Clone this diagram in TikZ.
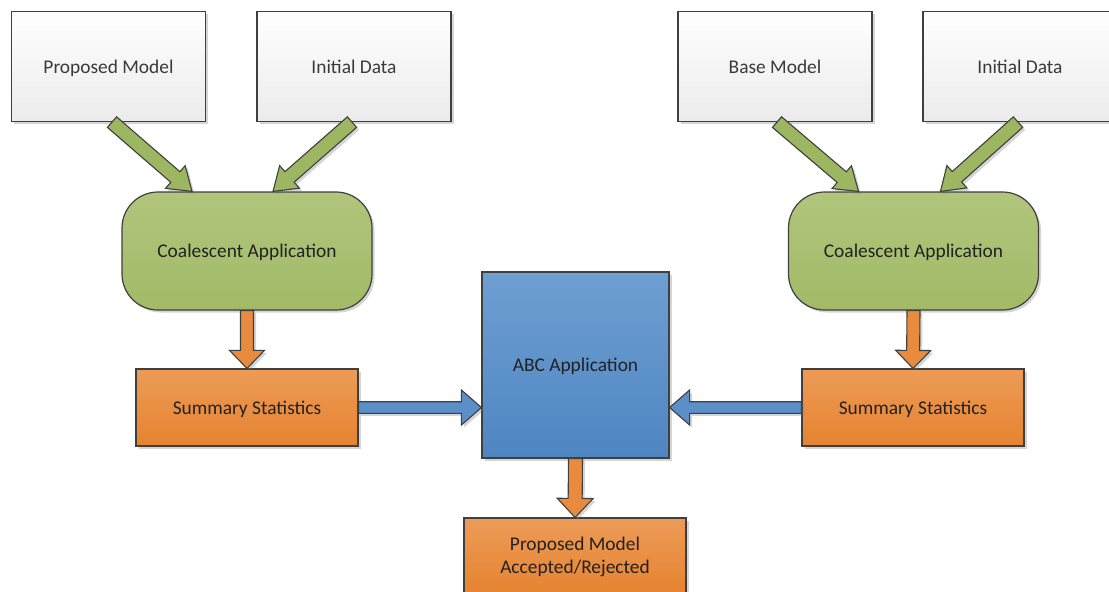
\documentclass[tikz,border=0pt]{standalone}
\usepackage{fontspec}
\setmainfont{Carlito}
\usetikzlibrary{calc,shadows}

\definecolor{edge}{HTML}{3F3F3F}
\definecolor{ink}{HTML}{222222}
\definecolor{greyink}{HTML}{3A3A3A}
\definecolor{papertop}{HTML}{FFFFFF}
\definecolor{paperbot}{HTML}{EBEBEB}
\definecolor{greentop}{HTML}{B1C57C}
\definecolor{greenbot}{HTML}{A2BA67}
\definecolor{greenarrow}{HTML}{9DB662}
\definecolor{orangetop}{HTML}{ED9B58}
\definecolor{orangebot}{HTML}{E5832F}
\definecolor{orangearrow}{HTML}{E98B3E}
\definecolor{bluetop}{HTML}{6E9FD3}
\definecolor{bluebot}{HTML}{4F85C0}
\definecolor{bluearrow}{HTML}{5B8FC8}

% block arrow: #1 style, #2 start, #3 tip, #4 shaft half-width, #5 head half-width, #6 head length
\newcommand\blockarrow[6]{%
  \coordinate (ba-head) at ($(#3)!#6!(#2)$);
  \draw[#1] ($(#2)!#4!90:(#3)$) -- ($(ba-head)!#4!90:(#3)$) -- ($(ba-head)!#5!90:(#3)$)
    -- (#3) -- ($(ba-head)!#5!-90:(#3)$) -- ($(ba-head)!#4!-90:(#3)$)
    -- ($(#2)!#4!-90:(#3)$) -- cycle;
}

\begin{document}
\begin{tikzpicture}[x=1pt,y=1pt,
  font=\fontsize{19.4}{22.5}\selectfont,
  softshadow/.style={drop shadow={shadow xshift=2.5pt,shadow yshift=-2.5pt,opacity=.3,fill=black!55}},
  box/.style={draw=edge,line width=1.2pt,inner sep=0pt,align=center,text=ink,softshadow},
  oneline/.style={text height=13pt,text depth=0pt},
  inputbox/.style={box,oneline,top color=papertop,bottom color=paperbot,text=greyink,
    minimum width=194,minimum height=110},
  coalbox/.style={box,oneline,top color=greentop,bottom color=greenbot,rounded corners=36pt,
    minimum width=250,minimum height=118},
  orangebox/.style={box,top color=orangetop,bottom color=orangebot,
    minimum width=222,minimum height=77},
  statbox/.style={orangebox,oneline},
  abcbox/.style={box,oneline,top color=bluetop,bottom color=bluebot,
    minimum width=187,minimum height=186},
  arrowbase/.style={draw=edge,line width=1.1pt,line join=miter,softshadow},
  greenflow/.style={arrowbase,fill=greenarrow},
  orangeflow/.style={arrowbase,fill=orangearrow},
  blueflow/.style={arrowbase,fill=bluearrow}]

\useasboundingbox (0,0) rectangle (1109,-592);
\clip (0,0) rectangle (1109,-592);

% inputs
\node[inputbox] (pm)  at (108.5,-66.5) {Proposed Model};
\node[inputbox] (id1) at (354,-66.5)   {Initial Data};
\node[inputbox] (bm)  at (775,-66.5)   {Base Model};
\node[inputbox] (id2) at (1020,-66.5)  {Initial Data};

% simulation
\node[coalbox] (coalL) at (247,-251)   {Coalescent Application};
\node[coalbox] (coalR) at (913.5,-251) {Coalescent Application};

% statistics
\node[statbox] (sumL) at (247,-407.5) {Summary Statistics};
\node[statbox] (sumR) at (913,-407.5) {Summary Statistics};

% comparison
\node[abcbox] (abc) at (575.5,-365) {ABC Application};
\node[orangebox,minimum height=78] (res) at (575,-557) {Proposed Model\\Accepted/Rejected};

% arrow end points
\coordinate (g1s) at ($(pm.south)+(3.5,0)$);
\coordinate (g1e) at ($(coalL.north)+(-55,0)$);
\coordinate (g2s) at ($(id1.south)+(-2,0)$);
\coordinate (g2e) at ($(coalL.north)+(26,0)$);
\coordinate (g3s) at ($(bm.south)+(2,0)$);
\coordinate (g3e) at ($(coalR.north)+(-55,0)$);
\coordinate (g4s) at ($(id2.south)+(-2,0)$);
\coordinate (g4e) at ($(coalR.north)+(27,0)$);

\blockarrow{greenflow}{g1s}{g1e}{7pt}{15pt}{22pt}
\blockarrow{greenflow}{g2s}{g2e}{7pt}{15pt}{22pt}
\blockarrow{greenflow}{g3s}{g3e}{7pt}{15pt}{22pt}
\blockarrow{greenflow}{g4s}{g4e}{7pt}{15pt}{22pt}

\blockarrow{orangeflow}{coalL.south}{sumL.north}{6.5pt}{17.5pt}{18pt}
\blockarrow{orangeflow}{coalR.south}{sumR.north}{6.5pt}{17.5pt}{18pt}
\blockarrow{orangeflow}{abc.south}{res.north}{7pt}{18pt}{19pt}

\coordinate (bLe) at (abc.west |- sumL.east);
\coordinate (bRe) at (abc.east |- sumR.west);
\blockarrow{blueflow}{sumL.east}{bLe}{5.8pt}{17.5pt}{20pt}
\blockarrow{blueflow}{sumR.west}{bRe}{5.8pt}{17.5pt}{20pt}

\end{tikzpicture}
\end{document}
